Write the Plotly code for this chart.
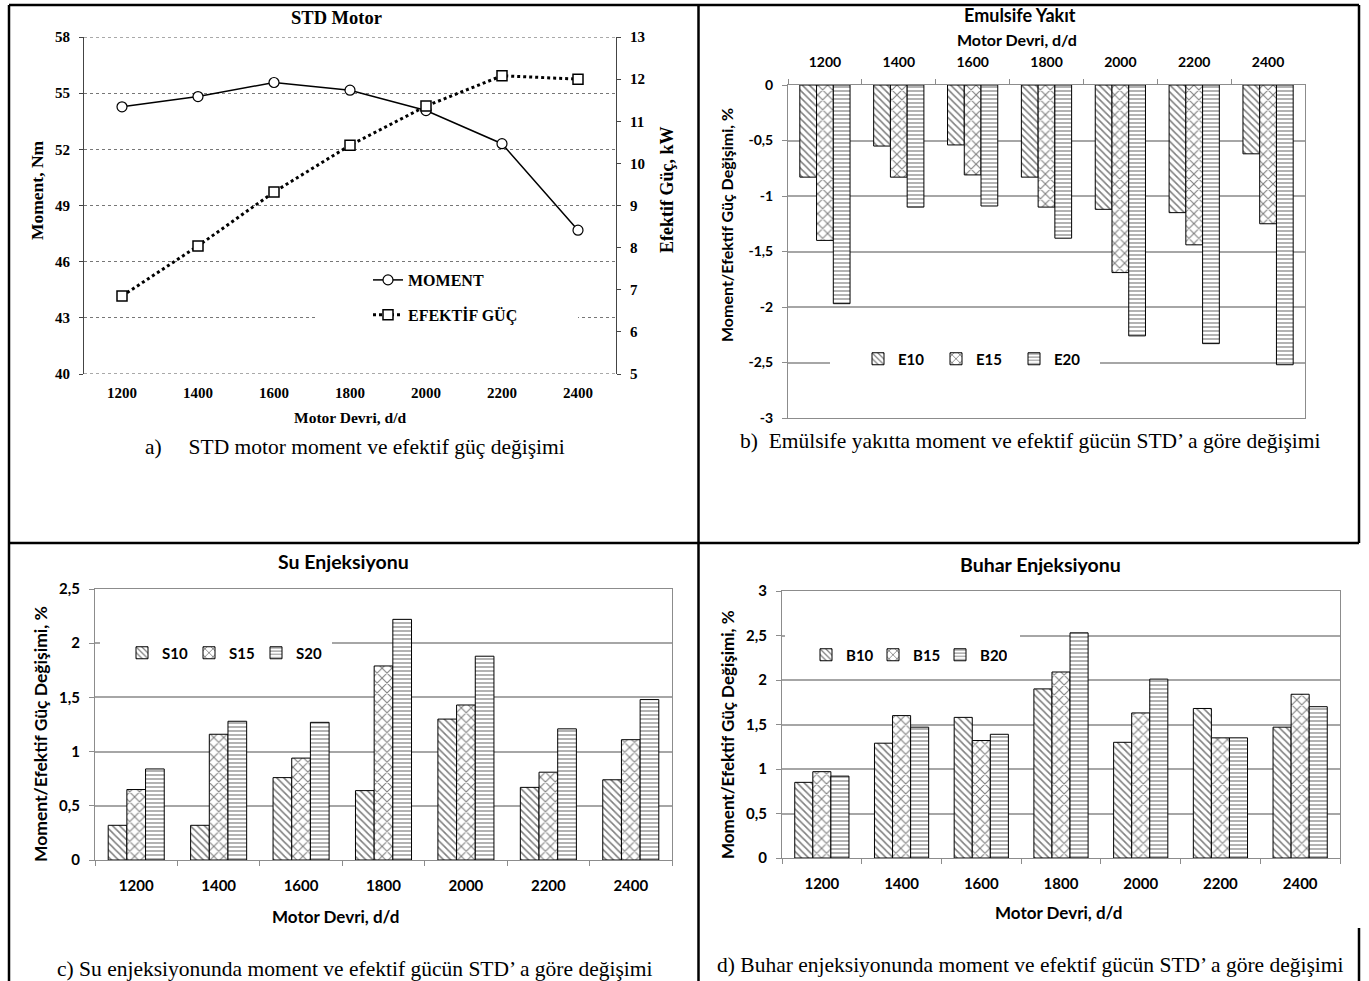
import plotly.graph_objects as go

# ---------------- data ----------------
rpm = ["1200", "1400", "1600", "1800", "2000", "2200", "2400"]

moment = [54.27, 54.82, 55.57, 55.16, 54.07, 52.30, 47.68]
power = [6.85, 8.04, 9.32, 10.43, 11.36, 12.08, 12.00]

e10 = [-0.83, -0.55, -0.54, -0.83, -1.12, -1.15, -0.62]
e15 = [-1.40, -0.83, -0.81, -1.10, -1.69, -1.44, -1.25]
e20 = [-1.97, -1.10, -1.09, -1.38, -2.26, -2.33, -2.52]

s10 = [0.32, 0.32, 0.76, 0.64, 1.30, 0.67, 0.74]
s15 = [0.65, 1.16, 0.94, 1.79, 1.43, 0.81, 1.11]
s20 = [0.84, 1.28, 1.27, 2.22, 1.88, 1.21, 1.48]

b10 = [0.85, 1.29, 1.58, 1.90, 1.30, 1.68, 1.47]
b15 = [0.97, 1.60, 1.32, 2.09, 1.63, 1.35, 1.84]
b20 = [0.92, 1.47, 1.39, 2.53, 2.01, 1.35, 1.70]

a_left_ticks = [40, 43, 46, 49, 52, 55, 58]
a_right_ticks = [5, 6, 7, 8, 9, 10, 11, 12, 13]
b_tickvals = [0, -0.5, -1, -1.5, -2, -2.5, -3]
b_ticktext = ["0", "-0,5", "-1", "-1,5", "-2", "-2,5", "-3"]
c_tickvals = [0, 0.5, 1, 1.5, 2, 2.5]
c_ticktext = ["0", "0,5", "1", "1,5", "2", "2,5"]
d_tickvals = [0, 0.5, 1, 1.5, 2, 2.5, 3]
d_ticktext = ["0", "0,5", "1", "1,5", "2", "2,5", "3"]

# ---------------- helpers ----------------
W, H = 1369, 981
def fx(px):
    return px / W
def fy(py):
    return 1 - py / H

SERIF = "Liberation Serif"
SANS = "Lato"

fig = go.Figure()

# ---------- panel a ----------
fig.add_trace(go.Scatter(
    x=rpm, y=moment, name="MOMENT", mode="lines+markers",
    line=dict(color="black", width=1.5),
    marker=dict(symbol="circle", size=10, color="white", line=dict(color="black", width=1.2)),
    xaxis="x", yaxis="y", legend="legend", legendgroup="m"))
fig.add_trace(go.Scatter(
    x=rpm, y=power, name="EFEKTİF GÜÇ", mode="lines+markers",
    line=dict(color="black", width=3, dash="dot"),
    marker=dict(symbol="square", size=10, color="white", line=dict(color="black", width=1.5)),
    xaxis="x", yaxis="y2", legend="legend", legendgroup="p"))

def bar(name, vals, shape, size, sol, xa, ya, leg):
    return go.Bar(
        x=rpm, y=vals, name=name, xaxis=xa, yaxis=ya, legend=leg,
        marker=dict(color="white", line=dict(color="black", width=1),
                    pattern=dict(shape=shape, fgcolor="black", bgcolor="white",
                                 size=size, solidity=sol)))

styles = [("\\", 5, 0.32), ("x", 7, 0.28), ("-", 4, 0.3)]
for nm, v, st in zip(["E10", "E15", "E20"], [e10, e15, e20], styles):
    fig.add_trace(bar(nm, v, *st, "x2", "y3", "legend2"))
for nm, v, st in zip(["S10", "S15", "S20"], [s10, s15, s20], styles):
    fig.add_trace(bar(nm, v, *st, "x3", "y4", "legend3"))
for nm, v, st in zip(["B10", "B15", "B20"], [b10, b15, b20], styles):
    fig.add_trace(bar(nm, v, *st, "x4", "y5", "legend4"))

GRAY = "#8c8c8c"
GRID = "#a6a6a6"

def sfont(size=14, family=SANS):
    return dict(family=family, size=size, color="black", weight="bold")

def xcat(domain, anchor, side="bottom", standoff=10, fs=14):
    return dict(domain=domain, anchor=anchor, type="category", side=side,
                automargin=False, range=[-0.5, 6.5],
                showline=True, linecolor=GRAY, linewidth=1, mirror=True,
                ticks="outside", tickson="boundaries", ticklen=5, tickcolor=GRAY,
                showgrid=False, ticklabelstandoff=standoff,
                tickfont=sfont(fs))

def ybar(domain, anchor, rng, tv, tt, fs=14):
    return dict(domain=domain, anchor=anchor, range=rng, tickvals=tv, ticktext=tt,
                automargin=False,
                showgrid=True, gridcolor=GRID, gridwidth=1.5, zeroline=False,
                showline=True, linecolor=GRAY, linewidth=1, mirror=True,
                ticks="outside", ticklen=5, tickcolor=GRAY, ticklabelstandoff=6,
                tickfont=sfont(fs))

def hleg(x, y, ew):
    return dict(orientation="h", x=fx(x), y=fy(y), xanchor="left", yanchor="middle",
                bgcolor="rgba(0,0,0,0)", itemwidth=30, entrywidth=ew, entrywidthmode="pixels",
                font=sfont(15))

layout = dict(
    width=W, height=H, autosize=False, margin=dict(l=0, r=0, t=0, b=0, pad=0),
    paper_bgcolor="white", plot_bgcolor="white",
    barmode="group", bargap=0.32, bargroupgap=0,
    separators=",.",
    # panel a
    xaxis=dict(domain=[fx(84), fx(616)], anchor="y", type="category", automargin=False,
               range=[-0.5, 6.5],
               showline=False, ticks="", showgrid=False, ticklabelstandoff=8,
               tickfont=sfont(15, SERIF)),
    yaxis=dict(domain=[fy(374), fy(37)], anchor="x", range=[40, 58], automargin=False,
               tickvals=a_left_ticks, showgrid=True, gridcolor="#777777",
               griddash="dot", gridwidth=1, zeroline=False,
               showline=True, linecolor="#444444", linewidth=1,
               ticks="outside", ticklen=4, tickcolor="#444444", ticklabelstandoff=6,
               tickfont=sfont(15, SERIF)),
    yaxis2=dict(domain=[fy(374), fy(37)], anchor="x", overlaying="y", side="right",
                automargin=False,
                range=[5, 13], tickvals=a_right_ticks, showgrid=False, zeroline=False,
                showline=True, linecolor="#444444", linewidth=1,
                ticks="outside", ticklen=4, tickcolor="#444444", ticklabelstandoff=6,
                tickfont=sfont(15, SERIF)),
    # panel b
    xaxis2=xcat([fx(788), fx(1305)], "y3", side="top", standoff=11, fs=14),
    yaxis3=ybar([fy(418), fy(85)], "x2", [-3, 0], b_tickvals, b_ticktext, fs=14),
    # panel c
    xaxis3=xcat([fx(95), fx(672)], "y4", standoff=12, fs=15),
    yaxis4=ybar([fy(860), fy(589)], "x3", [0, 2.5], c_tickvals, c_ticktext, fs=15),
    # panel d
    xaxis4=xcat([fx(782), fx(1340)], "y5", standoff=12, fs=15),
    yaxis5=ybar([fy(858), fy(591)], "x4", [0, 3], d_tickvals, d_ticktext, fs=15),
    legend=dict(x=fx(368), y=fy(263), xanchor="left", yanchor="top",
                bgcolor="rgba(0,0,0,0)", tracegroupgap=11, itemwidth=30,
                font=sfont(16, SERIF)),
    legend2=hleg(858, 359, 33),
    legend3=hleg(122, 653, 22),
    legend4=hleg(806, 655, 22),
)
fig.update_layout(**layout)

# dotted top/bottom border of panel a
for yv in (40, 58):
    fig.add_shape(type="line", xref="x domain", yref="y", x0=0, x1=1, y0=yv, y1=yv,
                  line=dict(color="#555555", width=1.2, dash="dot"), layer="above")

# white masks hiding gridlines behind the legends (no data crosses these spans)
masks = [
    ("x", "y", 316, 578, 43),
    ("x2", "y3", 830, 1100, -2.5),
    ("x3", "y4", 100, 332, 2),
    ("x4", "y5", 785, 1020, 2.5),
]
dom = {"x": (84, 616), "x2": (788, 1305), "x3": (95, 672), "x4": (782, 1340)}
for xa, ya, p0, p1, yv in masks:
    d0, d1 = dom[xa]
    fig.add_shape(type="line", xref=xa + " domain", yref=ya,
                  x0=(p0 - d0) / (d1 - d0), x1=(p1 - d0) / (d1 - d0), y0=yv, y1=yv,
                  line=dict(color="white", width=4), layer="above")

# frame lines
frame = [
    (9, 5, 1359, 5), (9, 5, 9, 981), (698.5, 5, 698.5, 981),
    (9, 543, 1359, 543), (1359, 5, 1359, 543), (1359, 928, 1359, 981),
]
for x0, y0, x1, y1 in frame:
    fig.add_shape(type="line", xref="paper", yref="paper",
                  x0=fx(x0), y0=fy(y0), x1=fx(x1), y1=fy(y1),
                  line=dict(color="black", width=2.5), layer="above")

def ann(text, x, y, family, size, bold=True, angle=0):
    fig.add_annotation(text=("<b>%s</b>" % text) if bold else text,
                       x=fx(x), y=fy(y), xref="paper", yref="paper",
                       showarrow=False, textangle=angle, xanchor="center", yanchor="middle",
                       font=dict(family=family, size=size, color="black"))

NB = "\u00a0"
# panel a texts
ann("STD Motor", 336, 18, SERIF, 18.5)
ann("Moment, Nm", 37, 190, SERIF, 17.5, angle=-90)
ann("Efektif Güç, kW", 667, 190, SERIF, 18, angle=-90)
ann("Motor Devri, d/d", 350, 417, SERIF, 15.5)
ann("a)" + NB * 5 + "STD motor moment ve efektif güç değişimi", 355, 447, SERIF, 21.5, bold=False)
# panel b texts
ann("Emulsife Yakıt", 1020, 15, SANS, 18)
ann("Motor Devri, d/d", 1017, 40, SANS, 16)
ann("Moment/Efektif Güç Değişimi, %", 727, 225, SANS, 16, angle=-90)
ann("b)" + NB * 2 + "Emülsife yakıtta moment ve efektif gücün STD’ a göre değişimi", 1030, 441, SERIF, 21.5, bold=False)
# panel c texts
ann("Su Enjeksiyonu", 343, 561, SANS, 19.5)
ann("Moment/Efektif Güç Değişimi, %", 40, 734, SANS, 17.5, angle=-90)
ann("Motor Devri, d/d", 335, 916, SANS, 17)
ann("c) Su enjeksiyonunda moment ve efektif gücün STD’ a göre değişimi", 355, 969, SERIF, 21.5, bold=False)
# panel d texts
ann("Buhar Enjeksiyonu", 1040, 564, SANS, 19.5)
ann("Moment/Efektif Güç Değişimi, %", 727, 735, SANS, 17, angle=-90)
ann("Motor Devri, d/d", 1058, 912, SANS, 17)
ann("d) Buhar enjeksiyonunda moment ve efektif gücün STD’ a göre değişimi", 1030, 965, SERIF, 21.5, bold=False)

fig.write_html("out.html", config={"displayModeBar": False},
               post_script="document.body.style.margin='0';document.body.style.overflow='hidden';")
